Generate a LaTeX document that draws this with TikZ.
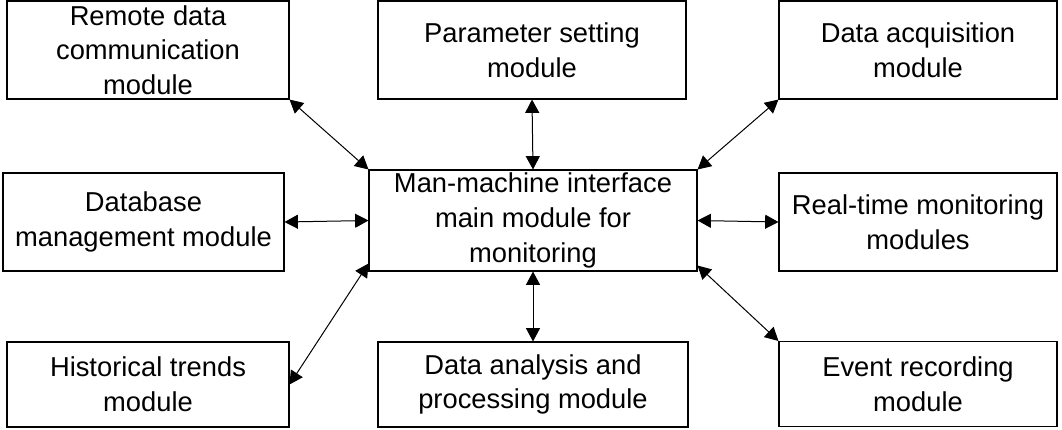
\documentclass[tikz,border=0pt]{standalone}
\usepackage{fontspec}
\setmainfont{Liberation Sans}
\usetikzlibrary{arrows.meta,calc}
\begin{document}
\begin{tikzpicture}[x=0.75pt,y=-0.75pt,
  box/.style={draw, line width=0.8pt, inner sep=0pt, align=center,
    font=\fontsize{20.5pt}{26pt}\selectfont},
  link/.style={line width=0.75pt, {Triangle[length=10pt,width=10.5pt]}-{Triangle[length=10pt,width=10.5pt]}}]
\useasboundingbox (0,0) rectangle (1062,429);
\node[box, minimum width=282*0.75pt, minimum height=98*0.75pt] (remote) at (148,50) {Remote data\\communication\\module};
\node[box, minimum width=308*0.75pt, minimum height=98*0.75pt] (param) at (532,50) {Parameter setting\\module};
\node[box, minimum width=278*0.75pt, minimum height=98*0.75pt] (acq) at (918,50) {Data acquisition\\module};
\node[box, minimum width=281*0.75pt, minimum height=98*0.75pt] (db) at (143.5,222) {Database\\management module};
\node[box, minimum width=328*0.75pt, minimum height=101*0.75pt] (center) at (533,220.5) {Man-machine interface\\main module for\\monitoring};
\node[box, minimum width=278*0.75pt, minimum height=98*0.75pt] (rt) at (918,222) {Real-time monitoring\\modules};
\node[box, minimum width=282*0.75pt, minimum height=85*0.75pt] (hist) at (148,384.5) {Historical trends\\module};
\node[box, minimum width=310*0.75pt, minimum height=85*0.75pt] (ana) at (533,384.5) {Data analysis and\\processing module};
\node[box, minimum width=278*0.75pt, minimum height=85*0.75pt] (ev) at (918,384) {Event recording\\module};
\draw[link] (remote.south east) -- (center.north west);
\draw[link] (param.south) -- (center.north);
\draw[link] (acq.south west) -- (center.north east);
\draw[link] (db.east) -- (center.west);
\draw[link] (rt.west) -- (center.east);
\draw[link] (hist.east) -- ($(center.south west)+(0,-8)$);
\draw[link] (ana.north) -- (center.south);
\draw[link] (ev.north west) -- ($(center.south east)+(0,-6)$);
\end{tikzpicture}
\end{document}
